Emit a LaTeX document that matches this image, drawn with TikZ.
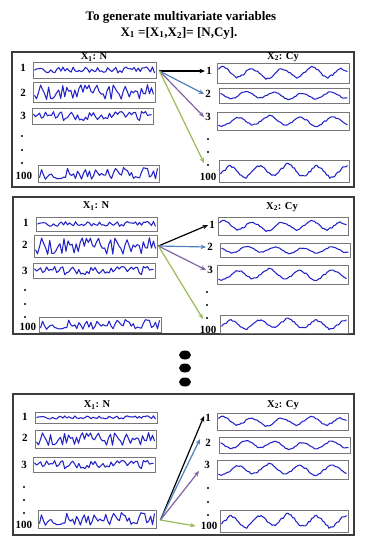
\documentclass[tikz,border=0pt]{standalone}
\usepackage{fontspec}
\setmainfont{Liberation Serif}
\usetikzlibrary{arrows.meta,shapes.geometric}
\definecolor{wavec}{RGB}{35,35,200}
\definecolor{boxc}{RGB}{120,120,120}
\definecolor{panelc}{RGB}{60,60,60}
\definecolor{arrblue}{RGB}{79,129,189}
\definecolor{arrpurple}{RGB}{128,100,162}
\definecolor{arrgreen}{RGB}{155,187,89}
\tikzset{
  sbox/.style={draw=boxc, line width=0.9pt, inner sep=0pt, rectangle},
  wave/.style={draw=wavec, line width=1.05pt, line join=round},
  panelbox/.style={draw=panelc, line width=1.3pt},
  lab/.style={font=\bfseries\fontsize{11}{11}\selectfont, inner sep=1pt},
  hdr/.style={font=\bfseries\fontsize{10.5}{11}\selectfont, inner sep=0.5pt},
  ttl/.style={font=\bfseries\fontsize{13}{14}\selectfont, inner sep=0pt},
  dotn/.style={circle, fill=black, inner sep=0pt, minimum size=2.4pt},
  bigdot/.style={ellipse, fill=black, inner sep=0pt, minimum width=12pt, minimum height=9pt},
  arr/.style={line width=1.2pt, -{Stealth[length=5.5pt,width=4.5pt]}},
}
% left noisy signal box
\newcommand{\lbox}[7]{%
  \node[sbox, minimum width={(#4-#2)*1pt}, minimum height={(#5-#3)*1pt}] (#1) at ({(#2+#4)/2},{(#3+#5)/2}) {};
  \pgfmathsetmacro\xa{#2+1.5}\pgfmathsetmacro\xb{#4-1.5}%
  \pgfmathsetseed{#6}%
  \draw[wave] plot[domain=\xa:\xb, samples=60] (\x,{(#3+#5)/2 + #7*((#5-#3)/2-2.5)*rand});
}
% right cyclic signal box
\newcommand{\rbox}[8]{%
  \node[sbox, minimum width={(#4-#2)*1pt}, minimum height={(#5-#3)*1pt}] (#1) at ({(#2+#4)/2},{(#3+#5)/2}) {};
  \pgfmathsetmacro\xa{#2+1.5}\pgfmathsetmacro\xb{#4-1.5}%
  \pgfmathsetseed{#6}%
  \draw[wave] plot[domain=\xa:\xb, samples=80] (\x,{(#3+#5)/2 - ((#5-#3)/2-2.5)*(0.4*sin(360*#7*((\x-#2)/(#4-#2))+#8) + 0.3*asin(sin(360*#7*((\x-#2)/(#4-#2))+#8+20))/90 + 0.15*sin(540*((\x-#2)/(#4-#2))+3*#8) + 0.13*rand)});
}
\begin{document}
\begin{tikzpicture}[x=1pt,y=-1pt]
\fill[white] (0,0) rectangle (365,550);
\useasboundingbox (0,0) rectangle (365,550);
% title
\node[ttl] (t1) at (181,17) {To generate multivariate variables};
\node[ttl] (t2) at (179,33) {X\textsubscript{1} =[X\textsubscript{1},X\textsubscript{2}]= [N,Cy].};

% ================= panel 1
\draw[panelbox] (12,52) rectangle (354,187);
\node[hdr] (p1hl) at (94,57) {X\textsubscript{1}: N};
\node[hdr] (p1hr) at (283,57) {X\textsubscript{2}: Cy};
\lbox{p1L1}{33}{62}{156}{78}{11}{0.6}
\lbox{p1L2}{33}{82}{155}{102}{12}{1.0}
\lbox{p1L3}{32}{108}{153}{124}{13}{0.85}
\lbox{p1L4}{38}{165}{159}{182}{14}{1.0}
\node[lab] (p1a1) at (23,68) {1};
\node[lab] (p1a2) at (23,93) {2};
\node[lab] (p1a3) at (23,116) {3};
\node[dotn] (p1ad1) at (22,136) {};
\node[dotn] (p1ad2) at (22,150) {};
\node[dotn] (p1ad3) at (22,163) {};
\node[lab] (p1a4) at (24,176) {100};
\rbox{p1R1}{217}{63}{349}{83}{21}{4.4}{20}
\rbox{p1R2}{219}{88}{349}{103}{22}{4.6}{100}
\rbox{p1R3}{217}{112}{349}{130}{23}{4.2}{200}
\rbox{p1R4}{219}{160}{349}{182}{24}{4.5}{300}
\node[lab] (p1b1) at (209,71) {1};
\node[lab] (p1b2) at (208,94) {2};
\node[lab] (p1b3) at (208,117) {3};
\node[dotn] (p1bd1) at (208,139) {};
\node[dotn] (p1bd2) at (208,152) {};
\node[dotn] (p1bd3) at (208,165) {};
\node[lab] (p1b4) at (208,177) {100};
\coordinate (p1o) at ([xshift=3pt,yshift=-1pt]p1L1.east);
\draw[arr, black] (p1o) -- (p1b1.west);
\draw[arr, arrblue] (p1o) -- (p1b2.west);
\draw[arr, arrpurple] (p1o) -- (p1b3.west);
\draw[arr, arrgreen] (p1o) -- ([xshift=-4pt,yshift=2pt]p1bd3.center);

% ================= panel 2
\draw[panelbox] (13,197) rectangle (354,334);
\node[hdr] (p2hl) at (96,206) {X\textsubscript{1}: N};
\node[hdr] (p2hr) at (282,207) {X\textsubscript{2}: Cy};
\lbox{p2L1}{36}{217}{157}{231}{11}{0.6}
\lbox{p2L2}{34}{235}{157}{257}{12}{1.0}
\lbox{p2L3}{33}{263}{155}{278}{13}{0.85}
\lbox{p2L4}{39}{317}{161}{332}{14}{1.0}
\node[lab] (p2a1) at (26,223) {1};
\node[lab] (p2a2) at (25,245) {2};
\node[lab] (p2a3) at (25,271) {3};
\node[dotn] (p2ad1) at (25,290) {};
\node[dotn] (p2ad2) at (25,304) {};
\node[dotn] (p2ad3) at (25,317) {};
\node[lab] (p2a4) at (28,327) {100};
\rbox{p2R1}{218}{217}{348}{235}{21}{4.4}{20}
\rbox{p2R2}{220}{243}{350}{257}{22}{4.6}{100}
\rbox{p2R3}{217}{265}{348}{284}{23}{4.2}{200}
\rbox{p2R4}{220}{315}{348}{333}{24}{4.5}{300}
\node[lab] (p2b1) at (212,225) {1};
\node[lab] (p2b2) at (210,247) {2};
\node[lab] (p2b3) at (210,270) {3};
\node[dotn] (p2bd1) at (207,292) {};
\node[dotn] (p2bd2) at (207,305) {};
\node[dotn] (p2bd3) at (207,318) {};
\node[lab] (p2b4) at (208,330) {100};
\coordinate (p2o) at ([xshift=1pt]p2L2.east);
\draw[arr, black] (p2o) -- (p2b1.west);
\draw[arr, arrblue] (p2o) -- (p2b2.west);
\draw[arr, arrpurple] (p2o) -- (p2b3.west);
\draw[arr, arrgreen] (p2o) -- ([xshift=-4pt,yshift=-1pt]p2bd3.center);

% ================= big dots
\node[bigdot] (bd1) at (185,355) {};
\node[bigdot] (bd2) at (185,368) {};
\node[bigdot] (bd3) at (185,382) {};

% ================= panel 3
\draw[panelbox] (13,394) rectangle (354,535);
\node[hdr] (p3hl) at (97,405) {X\textsubscript{1}: N};
\node[hdr] (p3hr) at (283,405) {X\textsubscript{2}: Cy};
\lbox{p3L1}{35}{412}{157}{423}{11}{0.6}
\lbox{p3L2}{35}{430}{156}{448}{12}{1.0}
\lbox{p3L3}{33}{457}{155}{472}{13}{0.85}
\lbox{p3L4}{38}{510}{156}{528}{14}{1.0}
\node[lab] (p3a1) at (25,417) {1};
\node[lab] (p3a2) at (25,438) {2};
\node[lab] (p3a3) at (24,465) {3};
\node[dotn] (p3ad1) at (24,487) {};
\node[dotn] (p3ad2) at (24,500) {};
\node[dotn] (p3ad3) at (24,513) {};
\node[lab] (p3a4) at (24,525) {100};
\rbox{p3R1}{217}{413}{348}{430}{21}{4.4}{20}
\rbox{p3R2}{219}{437}{350}{453}{22}{4.6}{100}
\rbox{p3R3}{217}{460}{348}{479}{23}{4.2}{200}
\rbox{p3R4}{220}{510}{348}{532}{24}{4.5}{300}
\node[lab] (p3b1) at (208,418) {1};
\node[lab] (p3b2) at (208,443) {2};
\node[lab] (p3b3) at (207,465) {3};
\node[dotn] (p3bd1) at (208,488) {};
\node[dotn] (p3bd2) at (208,502) {};
\node[dotn] (p3bd3) at (208,515) {};
\node[lab] (p3b4) at (209,526) {100};
\coordinate (p3o) at ([xshift=4pt,yshift=-1pt]p3L4.east);
\draw[arr, black] (p3o) -- ([yshift=2pt]p3b1.west);
\draw[arr, arrblue] (p3o) -- ([xshift=-4pt,yshift=4pt]p3b2.west);
\draw[arr, arrpurple] (p3o) -- ([xshift=-4pt,yshift=-6pt]p3b3.west);
\draw[arr, arrgreen] (p3o) -- ([xshift=-4pt]p3b4.west);
\end{tikzpicture}
\end{document}
